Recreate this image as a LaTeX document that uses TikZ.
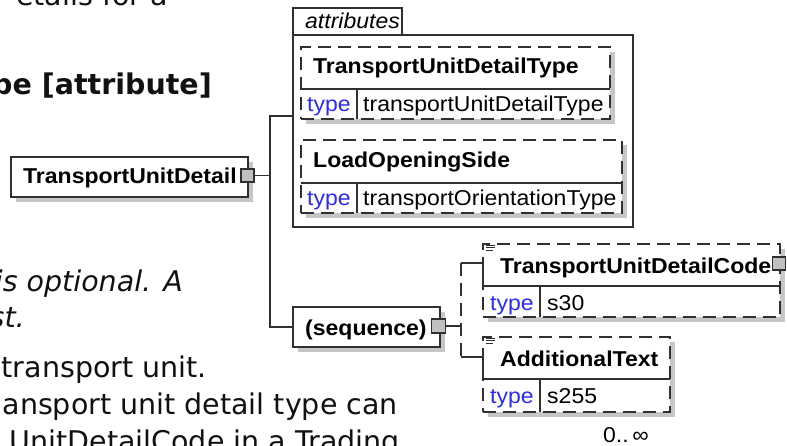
\documentclass[tikz,border=0pt]{standalone}
\usepackage{fontspec}
\setmainfont{DejaVu Sans}
\newfontfamily\dgfont[FakeStretch=1.07]{Liberation Sans}
\usetikzlibrary{calc,shadows}
\definecolor{edge}{HTML}{303030}
\definecolor{shade}{HTML}{C6C6C6}
\definecolor{sqfill}{HTML}{C0C0C0}
\definecolor{typeblue}{HTML}{2A2AFF}
\definecolor{bodytext}{HTML}{111111}
\tikzset{
  ln/.style={draw=edge, line width=1.5pt},
  dln/.style={ln, dash pattern=on 13pt off 7pt},
  plainbox/.style={rectangle, draw=edge, line width=1.5pt, inner sep=0pt, outer sep=0pt, anchor=north west},
  box/.style={plainbox, fill=white, drop shadow={shadow xshift=5pt, shadow yshift=-5pt, fill=shade, opacity=1}},
  optbox/.style={box, dash pattern=on 13pt off 7pt},
  sqbox/.style={rectangle, draw=edge, line width=1.3pt, fill=sqfill, minimum size=13pt, inner sep=0pt, outer sep=0pt},
  nm/.style={anchor=base west, inner sep=0pt, font=\dgfont\fontsize{21.5}{25}\selectfont\bfseries},
  val/.style={anchor=base west, inner sep=0pt, font=\dgfont\fontsize{21.5}{25}\selectfont},
  typ/.style={val, text=typeblue},
  bg/.style={anchor=base east, inner sep=0pt, text=bodytext, font=\fontsize{28.5}{34}\selectfont},
  docicon/.style={draw=edge, line width=0.8pt}
}
\begin{document}
\begin{tikzpicture}[x=1pt, y=-1pt]
\useasboundingbox (0,0) rectangle (787,446);
\clip (0,0) rectangle (787,446);
\fill[white] (0,0) rectangle (787,446);

% background document text (cut by the frame)
\node[bg] (t1) at (168,6) {etails for a};
\node[bg, font=\fontsize{28.5}{34}\selectfont\bfseries] (t2) at (212,95) {pe [attribute]};
\node[bg, font=\fontsize{28.5}{34}\selectfont\itshape] (t3) at (183,292) {is optional. A};
\node[bg, font=\fontsize{28.5}{34}\selectfont\itshape] (t4) at (25,327) {st.};
\node[bg] (t5) at (207,377) {transport unit.};
\node[bg] (t6) at (398,414) {ansport unit detail type can};
\node[bg] (t7) at (400,451) {UnitDetailCode in a Trading};

% root element
\node[box, minimum width=237pt, minimum height=40pt] (tud) at (11,157) {};
\node[nm] (tudtxt) at (23,184) {TransportUnitDetail};
\node[sqbox] (tudsq) at (247.5,175.5) {};

% attributes group
\node[plainbox, minimum width=109pt, minimum height=27pt] (attrtab) at (293,8) {};
\node[val, font=\dgfont\fontsize{21.5}{25}\selectfont\itshape] (attrtxt) at (305,29) {attributes};
\node[plainbox, minimum width=340pt, minimum height=192pt] (attr) at (293,35) {};

\node[optbox, minimum width=309pt, minimum height=72pt] (a1) at (301,47) {};
\draw[ln] (a1.west |- 0,89) -- (a1.east |- 0,89);
\draw[ln] (357,89) -- (357,119);
\node[nm] (a1name) at (313,74) {TransportUnitDetailType};
\node[typ] (a1type) at (307,112) {type};
\node[val] (a1val) at (363,112) {transportUnitDetailType};

\node[optbox, minimum width=321pt, minimum height=73pt] (a2) at (301,140) {};
\draw[ln] (a2.west |- 0,183) -- (a2.east |- 0,183);
\draw[ln] (357,183) -- (357,213);
\node[nm] (a2name) at (313,168) {LoadOpeningSide};
\node[typ] (a2type) at (307,206) {type};
\node[val] (a2val) at (363,206) {transportOrientationType};

% sequence
\node[box, minimum width=147pt, minimum height=40pt] (seq) at (293,307) {};
\node[nm] (seqtxt) at (305,335) {(sequence)};
\node[sqbox, minimum size=14pt] (seqsq) at (438.5,326) {};

% TransportUnitDetailCode
\node[optbox, minimum width=297pt, minimum height=73pt] (code) at (483,244) {};
\draw[ln] (code.west |- 0,286) -- (code.east |- 0,286);
\draw[ln] (540,286) -- (540,317);
\node[nm] (codename) at (500,274) {TransportUnitDetailCode};
\node[typ] (codetype) at (490,310) {type};
\node[val] (codeval) at (547,310) {s30};
\node[sqbox] (codesq) at (779,263.5) {};
\draw[docicon] (486,245) -- (495,245) (486,247.5) -- (495,247.5) (486,250) -- (493,250);

% AdditionalText
\node[optbox, minimum width=187pt, minimum height=75pt] (addl) at (483,337) {};
\draw[ln] (addl.west |- 0,379) -- (addl.east |- 0,379);
\draw[ln] (540,379) -- (540,412);
\node[nm] (addlname) at (500,366) {AdditionalText};
\node[typ] (addltype) at (490,403) {type};
\node[val] (addlval) at (547,403) {s255};
\draw[docicon] (486,338) -- (495,338) (486,340.5) -- (495,340.5) (486,343) -- (493,343);
\node[val] (card) at (603,442) {0..\,∞};

% connectors
\coordinate (trTop) at (270,116);
\coordinate (trBot) at (270,327);
\draw[ln] (tudsq.east) -- (tudsq.east -| trTop);
\draw[ln] (attr.west |- trTop) -- (trTop) -- (trBot) -- (seq.west |- trBot);

\coordinate (brTop) at (461,263);
\coordinate (brBot) at (461,357);
\draw[ln] (seqsq.east) -- (seqsq.east -| brTop);
\draw[dln] (brTop) -- (brBot);
\draw[ln] (brTop) -- (code.west |- brTop) -- (code.west |- 0,286);
\draw[ln] (brBot) -- (addl.west |- brBot) -- (addl.west |- 0,379);
\end{tikzpicture}
\end{document}
